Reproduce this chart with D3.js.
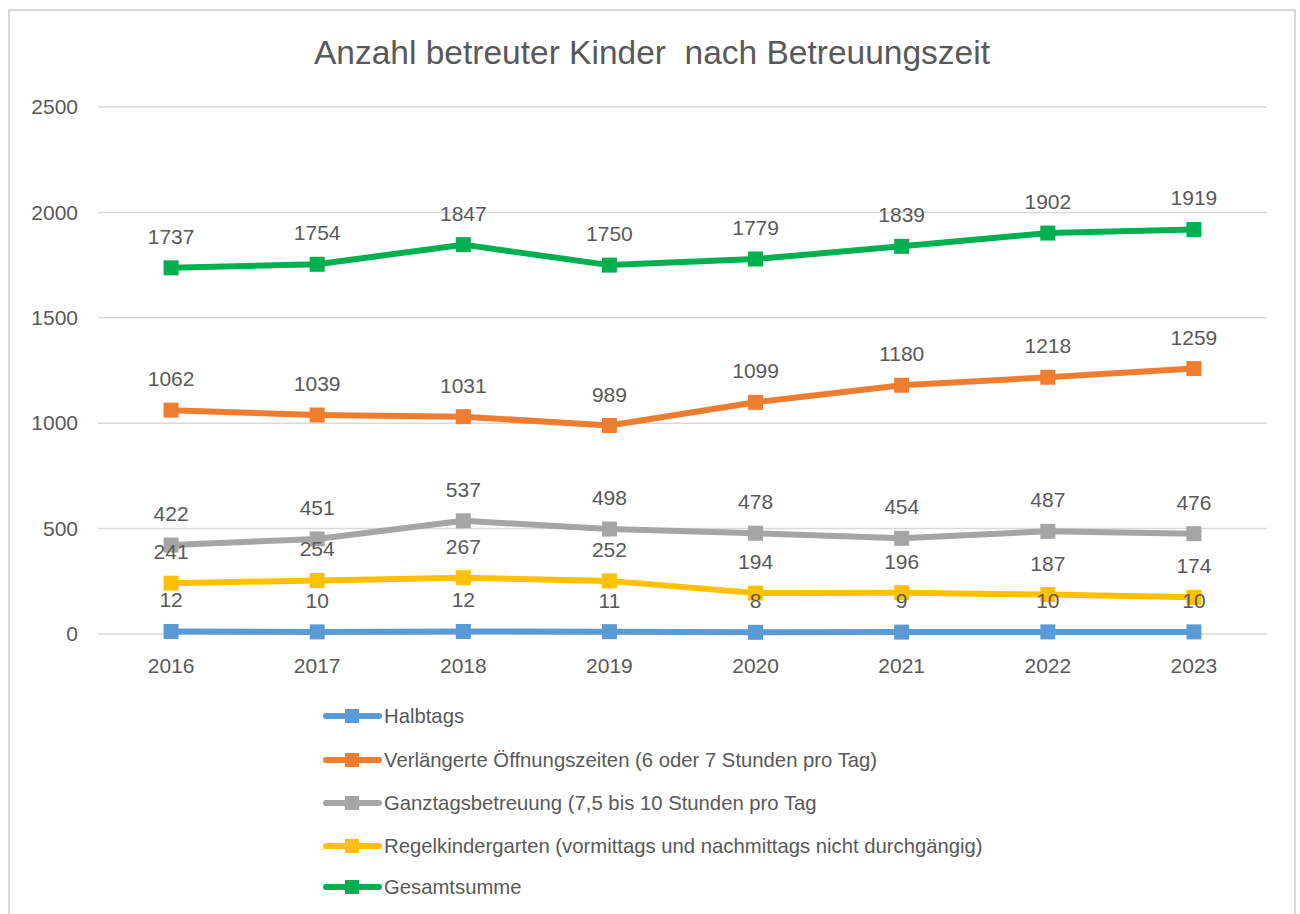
<!DOCTYPE html>
<html><head><meta charset="utf-8">
<script src="https://cdn.jsdelivr.net/npm/d3@7"></script>
<style>html,body{margin:0;padding:0;background:#fff}</style>
</head><body>
<svg id="c" width="1300" height="914"></svg>
<script>
const years = ["2016","2017","2018","2019","2020","2021","2022","2023"];
const seriesNames = ["Halbtags","Verlängerte Öffnungszeiten (6 oder 7 Stunden pro Tag)","Ganztagsbetreuung (7,5 bis 10 Stunden pro Tag","Regelkindergarten (vormittags und nachmittags nicht durchgängig)","Gesamtsumme"];
const halbtags = [12,10,12,11,8,9,10,10];
const verlaengert = [1062,1039,1031,989,1099,1180,1218,1259];
const ganztags = [422,451,537,498,478,454,487,476];
const regel = [241,254,267,252,194,196,187,174];
const gesamt = [1737,1754,1847,1750,1779,1839,1902,1919];
const yTicks = [0,500,1000,1500,2000,2500];
const colors = ["#5B9BD5","#ED7D31","#A5A5A5","#FFC000","#00B050"];
const title = "Anzahl betreuter Kinder  nach Betreuungszeit";

const series = [halbtags, verlaengert, ganztags, regel, gesamt].map((v,i)=>({name:seriesNames[i], values:v, color:colors[i]}));
const FONT = "'Liberation Sans', Arial, sans-serif";
const TXT = "#595959";
const svg = d3.select("#c");

svg.append("rect").attr("x",9).attr("y",10).attr("width",1286).attr("height",920)
  .attr("fill","#fff").attr("stroke","#d9d9d9").attr("stroke-width",2);

svg.append("text").attr("x",652).attr("y",64).attr("text-anchor","middle")
  .attr("font-family",FONT).attr("font-size",33.5).attr("fill",TXT)
  .style("white-space","pre").attr("xml:space","preserve").text(title);

const x = d3.scaleBand().domain(years).range([98,1267]);
const y = d3.scaleLinear().domain([0,2500]).range([634,107]);
const cx = d => x(d) + x.bandwidth()/2;

// gridlines
svg.append("g").selectAll("line").data(yTicks).join("line")
  .attr("x1",98).attr("x2",1267).attr("y1",d=>y(d)).attr("y2",d=>y(d))
  .attr("stroke","#d9d9d9").attr("stroke-width",1.5);

// y axis labels
const yAxis = svg.append("g").attr("transform","translate(98,0)")
  .call(d3.axisLeft(y).tickValues(yTicks).tickFormat(d3.format("d")).tickSize(0).tickPadding(20));
yAxis.select(".domain").remove();
yAxis.selectAll("text").attr("font-family",FONT).attr("font-size",21).attr("fill",TXT);

// x axis labels
const xAxis = svg.append("g").attr("transform","translate(0,634)")
  .call(d3.axisBottom(x).tickSize(0).tickPadding(24));
xAxis.select(".domain").remove();
xAxis.selectAll("text").attr("font-family",FONT).attr("font-size",21).attr("fill",TXT);

const line = d3.line().x((d,i)=>cx(years[i])).y(d=>y(d));
series.forEach(s=>{
  const g = svg.append("g");
  g.append("path").attr("d",line(s.values)).attr("fill","none")
    .attr("stroke",s.color).attr("stroke-width",6).attr("stroke-linejoin","round");
  g.selectAll("rect").data(s.values).join("rect")
    .attr("x",(d,i)=>cx(years[i])-7.5).attr("y",d=>y(d)-7.5)
    .attr("width",15).attr("height",15).attr("fill",s.color);
});
// data labels on top
series.forEach(s=>{
  svg.append("g").selectAll("text").data(s.values).join("text")
    .attr("x",(d,i)=>cx(years[i])).attr("y",d=>y(d)-24)
    .attr("text-anchor","middle").attr("font-family",FONT).attr("font-size",21)
    .attr("fill",TXT).text(d=>d);
});

// legend
const legY = [716,760,803,846,887];
const leg = svg.append("g");
series.forEach((s,i)=>{
  const g = leg.append("g").attr("transform",`translate(0,${legY[i]})`);
  g.append("line").attr("x1",326).attr("x2",379).attr("y1",0).attr("y2",0)
    .attr("stroke",s.color).attr("stroke-width",6).attr("stroke-linecap","round");
  g.append("rect").attr("x",345).attr("y",-7).attr("width",14).attr("height",14).attr("fill",s.color);
  g.append("text").attr("x",384).attr("y",7).attr("font-family",FONT).attr("font-size",20.3)
    .attr("fill",TXT).text(s.name);
});
</script>
</body></html>
